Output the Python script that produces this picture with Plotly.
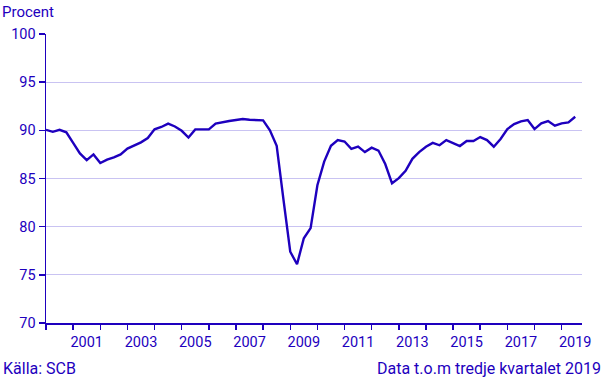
import plotly.graph_objects as go

# Quarterly data, 2000 K1 – 2019 K3
quarters = [f"{y}K{q}" for y in range(2000, 2020) for q in range(1, 5)][:79]
values = [
    90.05, 89.85, 90.05, 89.8, 88.7, 87.6, 86.9, 87.5, 86.6, 86.95,
    87.2, 87.5, 88.1, 88.4, 88.75, 89.2, 90.1, 90.35, 90.7, 90.4,
    89.95, 89.25, 90.1, 90.1, 90.1, 90.7, 90.86, 90.97, 91.07, 91.18,
    91.1, 91.1, 91.03, 90.0, 88.4, 82.8, 77.4, 76.1, 78.8, 79.85,
    84.3, 86.75, 88.4, 89.0, 88.84, 88.08, 88.32, 87.74, 88.2, 87.9,
    86.5, 84.5, 85.04, 85.8, 87.04, 87.74, 88.3, 88.7, 88.45, 88.98,
    88.7, 88.37, 88.9, 88.9, 89.3, 88.99, 88.3, 89.1, 90.13, 90.65,
    90.93, 91.07, 90.13, 90.72, 90.96, 90.48, 90.72, 90.83, 91.41,
]
label_years = ["2001", "2003", "2005", "2007", "2009", "2011", "2013", "2015", "2017", "2019"]
y_ticks = [70, 75, 80, 85, 90, 95, 100]

BLUE = "#1e00be"
GRID = "#c9c3f2"
FONT = "Roboto"

x = [int(q[:4]) + (int(q[5]) - 1) / 4 for q in quarters]

fig = go.Figure()
fig.add_trace(go.Scatter(
    x=x, y=values, mode="lines",
    line=dict(color=BLUE, width=2.4),
    hoverinfo="skip", showlegend=False,
))

fig.update_layout(
    width=606, height=379,
    margin=dict(l=46, r=24, t=34, b=56),
    paper_bgcolor="white", plot_bgcolor="white",
    font=dict(family=FONT, size=14.5, color=BLUE),
    xaxis=dict(
        range=[2000, 2019.75],
        tickmode="array",
        tickvals=[int(y) + 0.5 for y in label_years],
        ticktext=label_years,
        ticks="outside", ticklen=5, tickcolor="rgba(0,0,0,0)",
        showgrid=False, zeroline=False,
        showline=True, linecolor=BLUE, linewidth=1.5,
        minor=dict(tickmode="array", tickvals=list(range(2000, 2020)),
                   ticks="outside", ticklen=5, tickcolor=BLUE, tickwidth=1.5,
                   showgrid=False),
        tickfont=dict(family=FONT, size=14.5, color=BLUE),
        fixedrange=True,
    ),
    yaxis=dict(
        range=[70, 100],
        tickmode="array", tickvals=y_ticks,
        ticks="outside", ticklen=6, tickcolor=BLUE, tickwidth=1.5,
        showgrid=True, gridcolor=GRID, gridwidth=1,
        zeroline=False,
        showline=True, linecolor=BLUE, linewidth=1.5,
        tickfont=dict(family=FONT, size=14.5, color=BLUE),
        fixedrange=True,
    ),
    annotations=[
        dict(text="Procent", xref="paper", yref="paper", x=0, y=1,
             xshift=-45, yshift=22, xanchor="left", yanchor="middle",
             borderpad=0, showarrow=False, font=dict(family=FONT, size=15, color=BLUE)),
        dict(text="Källa: SCB", xref="paper", yref="paper", x=0, y=0,
             xshift=-44, yshift=-55.5, xanchor="left", yanchor="bottom",
             borderpad=0, showarrow=False, font=dict(family=FONT, size=16, color=BLUE)),
        dict(text="Data t.o.m tredje kvartalet 2019", xref="paper", yref="paper",
             x=1, y=0, xshift=20, yshift=-55.5, xanchor="right", yanchor="bottom",
             borderpad=0, showarrow=False, font=dict(family=FONT, size=16, color=BLUE)),
    ],
)

fig.write_html(
    "out.html",
    config={"displayModeBar": False, "staticPlot": True},
    post_script="document.body.style.margin='0';document.body.style.overflow='hidden';",
)
